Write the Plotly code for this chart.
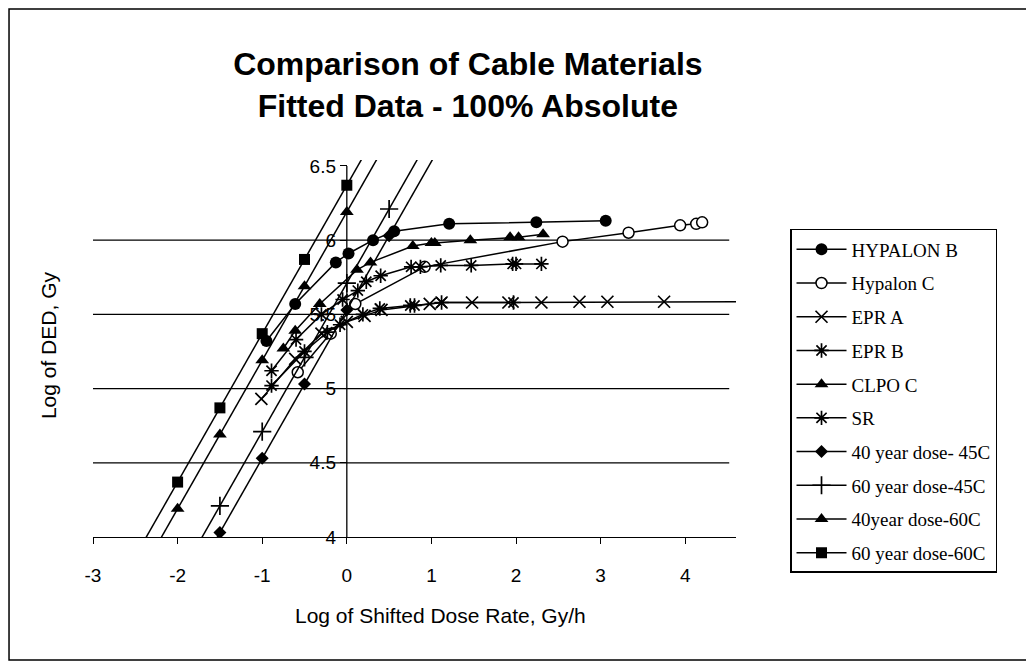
import plotly.graph_objects as go

# ---------------- data ----------------
hypB_x = [-0.95, -0.61, -0.13, 0.02, 0.31, 0.56, 1.21, 2.24, 3.06]
hypB_y = [5.32, 5.57, 5.85, 5.91, 6.00, 6.06, 6.11, 6.12, 6.13]

hypC_x = [-0.58, -0.19, 0.10, 0.92, 2.55, 3.33, 3.94, 4.13, 4.20]
hypC_y = [5.11, 5.37, 5.57, 5.82, 5.99, 6.05, 6.10, 6.11, 6.12]

eprA_x = [-1.01, -0.61, -0.30, 0.00, 0.21, 0.41, 0.98, 1.12, 1.48, 1.91, 2.30, 2.75, 3.08, 3.75, 4.70]
eprA_y = [4.93, 5.20, 5.37, 5.45, 5.49, 5.53, 5.57, 5.58, 5.58, 5.58, 5.58, 5.585, 5.585, 5.585, 5.585]

eprB_x = [-0.89, -0.60, -0.30, -0.05, 0.13, 0.23, 0.40, 0.76, 0.87, 1.11, 1.47, 1.96, 2.00, 2.30]
eprB_y = [5.12, 5.33, 5.50, 5.60, 5.66, 5.72, 5.76, 5.82, 5.82, 5.83, 5.83, 5.84, 5.84, 5.84]

clpo_x = [-0.75, -0.61, -0.32, 0.12, 0.28, 0.78, 1.00, 1.04, 1.46, 1.93, 2.03, 2.32]
clpo_y = [5.27, 5.39, 5.57, 5.80, 5.85, 5.96, 5.98, 5.98, 6.00, 6.02, 6.02, 6.04]

sr_x = [-0.89, -0.50, -0.23, -0.08, 0.19, 0.39, 0.75, 0.80, 1.12, 1.97]
sr_y = [5.02, 5.25, 5.38, 5.43, 5.50, 5.54, 5.56, 5.56, 5.58, 5.58]

d40_45_x = [-2.0, -1.5, -1.0, -0.5, 0.0, 0.5, 1.5]
d40_45_y = [3.53, 4.03, 4.53, 5.03, 5.53, 6.03, 7.03]

d60_45_x = [-2.0, -1.5, -1.0, -0.5, 0.0, 0.5, 1.5]
d60_45_y = [3.71, 4.21, 4.71, 5.21, 5.71, 6.21, 7.21]

d40_60_x = [-2.5, -2.0, -1.5, -1.0, -0.5, 0.0, 0.5]
d40_60_y = [3.69, 4.19, 4.69, 5.19, 5.69, 6.19, 6.69]

d60_60_x = [-2.5, -2.0, -1.5, -1.0, -0.5, 0.0, 0.5]
d60_60_y = [3.87, 4.37, 4.87, 5.37, 5.87, 6.37, 6.87]

series_names = ["HYPALON B", "Hypalon C", "EPR A", "EPR B", "CLPO C", "SR",
                "40 year dose- 45C", "60 year dose-45C", "40year dose-60C", "60 year dose-60C"]

x_ticks = [-3, -2, -1, 0, 1, 2, 3, 4]
x_tick_text = ["-3", "-2", "-1", "0", "1", "2", "3", "4"]
y_ticks = [4, 4.5, 5, 5.5, 6, 6.5]
y_tick_text = ["4", "4.5", "5", "5.5", "6", "6.5"]
grid_levels = [4.5, 5, 5.5, 6]

title_text = "Comparison of Cable Materials<br>Fitted Data - 100% Absolute"
x_title = "Log of Shifted Dose Rate, Gy/h"
y_title = "Log of DED, Gy"

# ---------------- figure ----------------
X_RANGE = [-3, 4.6]
Y_RANGE = [4, 6.54]
GRID_END = 4.52

data = [
    (hypB_x, hypB_y, dict(symbol="circle", size=12, color="black")),
    (hypC_x, hypC_y, dict(symbol="circle", size=11, color="white", line=dict(color="black", width=1.5))),
    (eprA_x, eprA_y, dict(symbol="x-thin-open", size=12, color="black", line=dict(color="black", width=1.7))),
    (eprB_x, eprB_y, dict(symbol="asterisk-open", size=12, color="black", line=dict(color="black", width=1.7))),
    (clpo_x, clpo_y, dict(symbol="triangle-up", size=12, color="black")),
    (sr_x, sr_y, dict(symbol="asterisk-open", size=12, color="black", line=dict(color="black", width=1.7))),
    (d40_45_x, d40_45_y, dict(symbol="diamond", size=10, color="black")),
    (d60_45_x, d60_45_y, dict(symbol="cross-thin-open", size=13, color="black", line=dict(color="black", width=1.7))),
    (d40_60_x, d40_60_y, dict(symbol="triangle-up", size=12, color="black")),
    (d60_60_x, d60_60_y, dict(symbol="square", size=11, color="black")),
]

fig = go.Figure()
for i, (xs, ys, mk) in enumerate(data):
    fig.add_trace(go.Scatter(
        x=xs, y=ys, mode="lines+markers", name=series_names[i],
        legendgroup=f"g{i}",
        line=dict(color="black", width=1.5),
        marker=mk,
    ))

shapes = []
for g in grid_levels:
    shapes.append(dict(type="line", xref="x", yref="y", x0=X_RANGE[0], x1=GRID_END, y0=g, y1=g,
                       line=dict(color="black", width=1.3), layer="below"))
# vertical value axis at x = 0
shapes.append(dict(type="line", xref="x", yref="y", x0=0, x1=0, y0=Y_RANGE[0], y1=y_ticks[-1],
                   line=dict(color="black", width=1.3), layer="below"))
# outer chart border
shapes.append(dict(type="rect", xref="paper", yref="paper",
                   x0=-0.1306, x1=1.4526, y0=-0.326, y1=1.4005,
                   line=dict(color="black", width=1.5)))

ypos = (0 - X_RANGE[0]) / (X_RANGE[1] - X_RANGE[0])

W, H = 1026, 659
fig.update_layout(
    width=W, height=H,
    margin=dict(l=85, r=298, t=152, b=130),
    paper_bgcolor="white", plot_bgcolor="white",
    font=dict(family="Liberation Sans, Arial, sans-serif", color="black"),
    title=dict(text=title_text, x=0.583, xref="paper", xanchor="center",
               y=1 - 67 / H, yref="container", yanchor="top",
               font=dict(family="Liberation Sans, Arial, sans-serif", size=32, color="black",
                         weight="bold")),
    xaxis=dict(range=X_RANGE, tickvals=x_ticks, ticktext=x_tick_text, ticks="outside",
               ticklen=6, tickwidth=1.3, tickcolor="black", showline=True, linecolor="black",
               linewidth=1.3, showgrid=False, zeroline=False, tickfont=dict(size=19),
               ticklabelstandoff=15),
    yaxis=dict(range=Y_RANGE, tickvals=y_ticks, ticktext=y_tick_text, ticks="outside",
               ticklen=7, tickwidth=1.3, tickcolor="black", showline=False, showgrid=False,
               zeroline=False, anchor="free", position=ypos, tickfont=dict(size=19)),
    shapes=shapes,
    legend=dict(x=1.084, y=0.817, xanchor="left", yanchor="top",
                bordercolor="black", borderwidth=1.5, bgcolor="white",
                font=dict(family="Liberation Serif, Times New Roman, serif", size=19),
                tracegroupgap=6, itemwidth=50),
    annotations=[
        dict(text=x_title, xref="paper", yref="paper", x=0.5397, y=-0.2069,
             showarrow=False, xanchor="center", yanchor="middle", font=dict(size=21)),
        dict(text=y_title, xref="paper", yref="paper", x=-0.07, y=0.509,
             showarrow=False, xanchor="center", yanchor="middle", textangle=-90, font=dict(size=21)),
    ],
    showlegend=True,
)

fig.write_html("out.html")
